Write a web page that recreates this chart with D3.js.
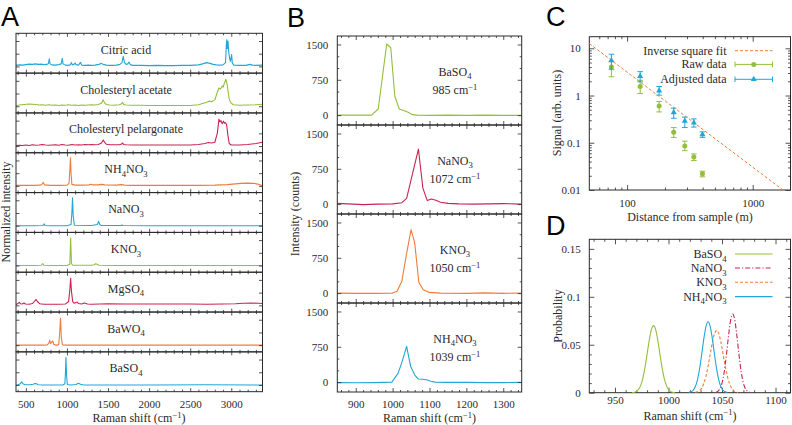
<!DOCTYPE html>
<html><head><meta charset="utf-8">
<script src="https://cdnjs.cloudflare.com/ajax/libs/d3/7.8.5/d3.min.js"></script>
<style>html,body{margin:0;padding:0;background:#fff}svg{display:block}</style>
</head><body>
<svg id="chart" width="792" height="425"></svg>
<script>
// ================= DATA =================
// Panel A: normalized Raman spectra [shift, intensity]
const spectraNamesA = ["Citric acid","Cholesteryl acetate","Cholesteryl pelargonate","NH_4NO_3","NaNO_3","KNO_3","MgSO_4","BaWO_4","BaSO_4"];
const ramanTicksA = [500,1000,1500,2000,2500,3000];
const citricAcid = [[380,0.04],[420,0.06],[460,0.05],[500,0.07],[540,0.09],[580,0.08],[620,0.1],[650,0.08],[680,0.09],[720,0.07],[760,0.08],[775,0.12],[785,0.3],[795,0.1],[820,0.06],[860,0.05],[900,0.07],[930,0.1],[943,0.32],[953,0.1],[980,0.05],[1010,0.04],[1040,0.06],[1055,0.15],[1065,0.06],[1085,0.08],[1100,0.13],[1110,0.07],[1140,0.05],[1165,0.16],[1180,0.05],[1220,0.04],[1260,0.05],[1300,0.04],[1340,0.05],[1390,0.08],[1420,0.12],[1440,0.08],[1480,0.05],[1520,0.04],[1560,0.04],[1600,0.05],[1640,0.07],[1670,0.15],[1685,0.4],[1700,0.15],[1720,0.08],[1740,0.1],[1755,0.17],[1770,0.07],[1800,0.04],[1900,0.04],[2000,0.03],[2100,0.04],[2200,0.03],[2300,0.03],[2400,0.04],[2500,0.04],[2600,0.06],[2650,0.1],[2700,0.15],[2740,0.12],[2780,0.08],[2820,0.06],[2860,0.05],[2900,0.06],[2930,0.15],[2940,0.85],[2945,1.05],[2952,0.7],[2960,1.0],[2968,0.6],[2980,0.3],[2990,0.2],[3004,0.47],[3012,0.15],[3030,0.05],[3100,0.04],[3180,0.04],[3227,0.08],[3260,0.05],[3300,0.04],[3380,0.05]];
const cholAcetate = [[380,0.02],[420,0.05],[480,0.07],[540,0.09],[580,0.08],[620,0.07],[660,0.05],[700,0.06],[740,0.04],[780,0.06],[820,0.04],[860,0.05],[900,0.03],[940,0.05],[980,0.04],[1020,0.06],[1060,0.04],[1100,0.05],[1140,0.03],[1180,0.05],[1220,0.04],[1260,0.05],[1300,0.06],[1340,0.05],[1380,0.07],[1420,0.12],[1442,0.25],[1460,0.12],[1480,0.07],[1520,0.05],[1560,0.04],[1600,0.05],[1640,0.06],[1665,0.1],[1678,0.15],[1690,0.07],[1720,0.05],[1800,0.04],[1900,0.04],[2000,0.03],[2100,0.03],[2200,0.03],[2300,0.03],[2400,0.03],[2500,0.03],[2600,0.06],[2660,0.12],[2700,0.16],[2730,0.2],[2760,0.18],[2800,0.25],[2830,0.55],[2850,0.72],[2870,0.68],[2890,0.8],[2902,0.75],[2915,0.9],[2935,1.06],[2950,0.85],[2965,0.5],[2975,0.3],[2990,0.15],[3023,0.06],[3100,0.04],[3200,0.05],[3300,0.06],[3380,0.08]];
const cholPelargonate = [[380,0.02],[420,0.03],[460,0.02],[500,0.04],[540,0.02],[580,0.05],[620,0.03],[660,0.04],[700,0.06],[740,0.04],[780,0.03],[820,0.04],[860,0.05],[900,0.03],[940,0.06],[980,0.04],[1020,0.03],[1060,0.06],[1100,0.04],[1140,0.05],[1180,0.04],[1220,0.06],[1260,0.05],[1300,0.06],[1340,0.05],[1380,0.06],[1420,0.12],[1442,0.24],[1460,0.14],[1480,0.07],[1520,0.05],[1560,0.05],[1600,0.05],[1640,0.05],[1665,0.08],[1678,0.12],[1690,0.06],[1720,0.05],[1800,0.04],[1900,0.04],[2000,0.04],[2100,0.04],[2200,0.04],[2300,0.04],[2400,0.04],[2500,0.04],[2600,0.06],[2680,0.1],[2720,0.14],[2760,0.12],[2800,0.15],[2830,0.5],[2850,1.06],[2862,0.95],[2875,1.0],[2890,0.88],[2905,0.98],[2918,0.9],[2930,0.92],[2943,0.85],[2960,0.4],[2975,0.1],[3000,0.04],[3100,0.04],[3200,0.06],[3300,0.1],[3380,0.15]];
const nh4no3A = [[380,0.02],[500,0.02],[600,0.02],[680,0.03],[700,0.08],[712,0.14],[725,0.04],[800,0.02],[900,0.02],[1000,0.03],[1025,0.1],[1035,0.6],[1043,1.1],[1050,0.5],[1060,0.06],[1100,0.03],[1200,0.03],[1270,0.04],[1290,0.06],[1310,0.04],[1380,0.04],[1420,0.06],[1460,0.04],[1600,0.03],[1660,0.05],[1700,0.03],[1800,0.02],[2000,0.02],[2200,0.02],[2400,0.02],[2600,0.02],[2800,0.03],[2950,0.05],[3050,0.08],[3120,0.1],[3200,0.11],[3270,0.1],[3320,0.07],[3360,0.03],[3380,0.02]];
const nano3A = [[380,0.0],[600,0.0],[700,0.01],[715,0.03],[724,0.07],[733,0.01],[800,0.0],[1000,0.0],[1050,0.05],[1060,0.5],[1068,1.1],[1076,0.4],[1090,0.02],[1300,0.01],[1370,0.05],[1385,0.17],[1400,0.04],[1420,0.01],[1660,0.01],[1670,0.03],[1680,0.01],[2000,0.0],[3380,0.0]];
const kno3A = [[380,0.0],[600,0.0],[690,0.01],[706,0.08],[718,0.01],[800,0.0],[1000,0.0],[1035,0.05],[1045,1.08],[1055,0.08],[1070,0.01],[1300,0.01],[1330,0.03],[1350,0.07],[1365,0.05],[1390,0.01],[1600,0.0],[3380,0.0]];
const mgso4A = [[380,0.03],[400,0.06],[420,0.12],[435,0.06],[455,0.05],[477,0.09],[495,0.05],[540,0.04],[580,0.07],[610,0.18],[625,0.23],[640,0.15],[670,0.06],[720,0.04],[800,0.04],[900,0.04],[980,0.05],[1020,0.15],[1035,0.6],[1045,1.06],[1055,0.55],[1070,0.15],[1090,0.08],[1110,0.11],[1125,0.13],[1140,0.07],[1180,0.05],[1210,0.09],[1225,0.08],[1250,0.05],[1300,0.04],[1400,0.05],[1500,0.06],[1700,0.05],[1900,0.05],[2100,0.05],[2300,0.05],[2500,0.05],[2700,0.04],[2900,0.05],[3050,0.06],[3150,0.08],[3250,0.09],[3330,0.08],[3380,0.07]];
const bawo4A = [[380,0.0],[700,0.0],[760,0.01],[780,0.08],[790,0.2],[800,0.06],[815,0.12],[827,0.17],[840,0.03],[870,0.0],[900,0.02],[912,0.5],[922,1.06],[932,0.3],[945,0.01],[1000,0.0],[3380,0.0]];
const baso4A = [[380,0.0],[400,0.01],[430,0.04],[450,0.12],[465,0.05],[490,0.01],[550,0.01],[590,0.03],[610,0.06],[630,0.05],[650,0.01],[700,0.0],[950,0.0],[975,0.05],[982,0.5],[988,1.08],[995,0.4],[1005,0.02],[1050,0.0],[1110,0.02],[1140,0.07],[1165,0.03],[1200,0.0],[2000,0.0],[2700,0.01],[3380,0.0]];

// Panel B: raw spectra (counts)
const namesB = ["BaSO_4","NaNO_3","KNO_3","NH_4NO_3"];
const peaksB = ["985","1072","1050","1039"];
const ticksB_y = [0,750,1500];
const ticksB_x = [900,1000,1100,1200,1300];
const baso4B_x = [850,900,943,961,984,995,1006,1018,1030,1042,1054,1066,1100,1150,1200,1250,1300,1350];
const baso4B_y = [0,0,0,130,1510,1430,400,130,100,60,10,0,-5,0,-5,0,-5,-5];
const nano3B_x = [850,880,920,960,1000,1025,1038,1055,1070,1082,1094,1105,1117,1130,1150,1180,1220,1260,1300,1350];
const nano3B_y = [15,5,-10,0,5,30,120,680,1170,340,75,110,80,40,15,5,0,5,10,0];
const kno3B_x = [850,900,950,1000,1012,1025,1037,1050,1060,1071,1083,1100,1130,1200,1250,1300,1350];
const kno3B_y = [0,-5,-5,0,40,250,800,1350,1060,230,70,15,0,-5,5,-5,0];
const nh4no3B_x = [850,900,950,998,1015,1026,1038,1049,1060,1070,1081,1092,1104,1115,1150,1200,1250,1300,1350];
const nh4no3B_y = [-10,-15,-10,0,190,440,760,330,150,65,60,50,20,0,-5,-5,-10,-10,-5];

// Panel C: signal vs distance
const distC = [75,127,180,235,288,340,398];
const rawVal = [4.0,1.55,0.6,0.166,0.085,0.05,0.022];
const rawLo  = [2.5,1.1,0.45,0.13,0.068,0.042,0.019];
const rawHi  = [5.3,2.1,0.75,0.21,0.108,0.058,0.025];
const adjVal = [5.5,2.55,1.26,0.44,0.29,0.265,0.15];
const adjLo  = [3.6,1.95,1.02,0.33,0.21,0.215,0.13];
const adjHi  = [7.5,3.2,1.55,0.54,0.35,0.32,0.17];
const fitX = [50,1740];
const fitY = [12.6,0.01];
const ticksC_x = [100,1000];
const ticksC_y = [0.01,0.1,1,10];

// Panel D: probability distributions of peak position
const namesD = ["BaSO_4","NaNO_3","KNO_3","NH_4NO_3"];
const baso4D_x = [966,968,970,972,974,976,978,980,982,984,986,988,990,992,994,996,998,1000,1002,1004,1006];
const baso4D_y = [0.0001,0.0005,0.0014,0.0034,0.0076,0.015,0.0261,0.0402,0.0547,0.0658,0.07,0.0658,0.0547,0.0402,0.0261,0.015,0.0076,0.0034,0.0014,0.0005,0.0001];
const nano3D_x = [1044,1046,1048,1050,1052,1054,1056,1058,1060,1062,1064,1066,1068,1070,1072,1074,1076];
const nano3D_y = [0.0004,0.0013,0.0039,0.0099,0.0212,0.0384,0.0585,0.0754,0.082,0.0754,0.0585,0.0384,0.0212,0.0099,0.0039,0.0013,0.0004];
const kno3D_x = [1025,1027,1029,1031,1033,1035,1037,1039,1041,1043,1045,1047,1049,1051,1053,1055,1057,1059,1061,1063,1065];
const kno3D_y = [0.0003,0.0009,0.0022,0.0048,0.0096,0.0173,0.0278,0.0403,0.0526,0.0616,0.065,0.0616,0.0526,0.0403,0.0278,0.0173,0.0096,0.0048,0.0022,0.0009,0.0003];
const nh4no3D_x = [1019,1021,1023,1025,1027,1029,1031,1033,1035,1037,1039,1041,1043,1045,1047,1049,1051,1053,1055];
const nh4no3D_y = [0.0003,0.0009,0.0025,0.0062,0.0132,0.0246,0.0398,0.0562,0.069,0.074,0.069,0.0562,0.0398,0.0246,0.0132,0.0062,0.0025,0.0009,0.0003];
const ticksD_x = [950,1000,1050,1100];
const ticksD_y = [0,0.05,0.1,0.15];

// ================= STYLE =================
const CYAN="#1fa7d6", GREEN="#93bf3c", CRIMSON="#c9244f", ORANGE="#ef7c3c";
const SERIF='"Liberation Serif","Times New Roman",serif';
const SANS='"Liberation Sans",Arial,sans-serif';
const INK="#2a2a2a";
const svg=d3.select("#chart");

function rich(sel,str){
  const fs=parseFloat(sel.attr("font-size"))||12;
  const re=/([_^])(\{[^}]*\}|.)/g; let last=0,m,shift=0;
  const add=(t,mode)=>{ if(!t) return; const ts=sel.append("tspan").text(t);
    const target= mode==="_"? fs*0.3 : mode==="^"? -fs*0.36 : 0;
    const dy=target-shift; if(dy) ts.attr("dy",dy); shift=target;
    if(mode) ts.attr("font-size",fs*0.72); };
  while((m=re.exec(str))){ add(str.slice(last,m.index),null); let t=m[2]; if(t[0]==="{") t=t.slice(1,-1); add(t,m[1]); last=re.lastIndex; }
  add(str.slice(last),null);
  return sel;
}
function text(g,x,y,str,size,anchor,font){
  const t=g.append("text").attr("x",x).attr("y",y).attr("font-size",size).attr("font-family",font||SERIF).attr("fill",INK).attr("text-anchor",anchor||"middle");
  return rich(t,str);
}
const AX={bottom:d3.axisBottom,top:d3.axisTop,left:d3.axisLeft,right:d3.axisRight};
function inward(g,scale,orient,pos,values,len){
  const ax=AX[orient](scale).tickValues(values).tickSize(-len).tickFormat("");
  const t=g.append("g").attr("transform",(orient==="bottom"||orient==="top")?`translate(0,${pos})`:`translate(${pos},0)`).call(ax);
  t.select(".domain").remove(); t.selectAll("line").attr("stroke",INK).attr("stroke-width",0.8);
}
function tickLabels(g,scale,orient,pos,values,fmt,pad,size){
  const ax=AX[orient](scale).tickValues(values).tickSize(0).tickPadding(pad).tickFormat(fmt);
  const t=g.append("g").attr("transform",(orient==="bottom"||orient==="top")?`translate(0,${pos})`:`translate(${pos},0)`).call(ax);
  t.select(".domain").remove(); t.selectAll("line").remove();
  t.selectAll("text").attr("font-family",SERIF).attr("font-size",size).attr("fill",INK);
}
function frame(g,x0,y0,x1,y1){
  g.append("rect").attr("x",x0).attr("y",y0).attr("width",x1-x0).attr("height",y1-y0).attr("fill","none").attr("stroke",INK).attr("stroke-width",1);
}
function allTicks(g,xs,ys,x0,y0,x1,y1,xMaj,xMin,yMaj,yMin,LM,Lm){
  inward(g,xs,"bottom",y1,xMin,Lm); inward(g,xs,"bottom",y1,xMaj,LM);
  inward(g,xs,"top",y0,xMin,Lm); inward(g,xs,"top",y0,xMaj,LM);
  inward(g,ys,"left",x0,yMin,Lm); inward(g,ys,"left",x0,yMaj,LM);
  inward(g,ys,"right",x1,yMin,Lm); inward(g,ys,"right",x1,yMaj,LM);
}
function rot(g,x,y,str,size){
  const t=g.append("text").attr("transform",`translate(${x},${y}) rotate(-90)`).attr("font-size",size).attr("font-family",SERIF).attr("fill",INK).attr("text-anchor","middle");
  return rich(t,str);
}

// ================= PANEL A =================
(function(){
  const x0=16,x1=262.5,y0=33.3,h=39.82;
  const spectra=[citricAcid,cholAcetate,cholPelargonate,nh4no3A,nano3A,kno3A,mgso4A,bawo4A,baso4A];
  const colors=[CYAN,GREEN,CRIMSON,ORANGE,CYAN,GREEN,CRIMSON,ORANGE,CYAN];
  const xs=d3.scaleLinear().domain([380,3380]).range([x0,x1]);
  const g=svg.append("g");
  const xMin=d3.range(400,3400,100).filter(v=>v%500!==0), xMaj=d3.range(500,3400,500);
  spectra.forEach((s,i)=>{
    const top=y0+i*h, bot=top+h;
    const ys=d3.scaleLinear().domain([-0.264,1.303]).range([bot,top]);
    const line=d3.line().x(d=>xs(d[0])).y(d=>ys(d[1]));
    g.append("path").attr("d",line(s)).attr("fill","none").attr("stroke",colors[i]).attr("stroke-width",1.1).attr("stroke-linejoin","round");
    frame(g,x0,top,x1,bot);
    allTicks(g,xs,ys,x0,top,x1,bot,xMaj,xMin,[0,0.5,1],[],3.5,2);
    text(g,126,top+20.5,spectraNamesA[i],12);
  });
  const bot=y0+9*h;
  tickLabels(g,xs,"bottom",bot,ramanTicksA,d3.format("d"),8.5,11);
  text(g,139,422,"Raman shift (cm^{−1})",12);
  rot(g,9.5,212,"Normalized intensity",12);
  g.append("text").attr("x",1).attr("y",26).attr("font-family",SANS).attr("font-size",27).attr("fill","#000").text("A");
})();

// ================= PANEL B =================
(function(){
  const x0=337.3,x1=521.7,y0=36,h=89;
  const xs=d3.scaleLinear().domain([850,1350]).range([x0,x1]);
  const sx=[baso4B_x,nano3B_x,kno3B_x,nh4no3B_x], sy=[baso4B_y,nano3B_y,kno3B_y,nh4no3B_y];
  const colors=[GREEN,CRIMSON,ORANGE,CYAN];
  const g=svg.append("g");
  const xMin=d3.range(860,1350,20).filter(v=>v%100!==0);
  sx.forEach((X,i)=>{
    const top=y0+i*h, bot=top+h;
    const ys=d3.scaleLinear().domain([-210,1680]).range([bot,top]);
    const line=d3.line().x(d=>xs(d)).y((d,j)=>ys(sy[i][j]));
    g.append("path").attr("d",line(X)).attr("fill","none").attr("stroke",colors[i]).attr("stroke-width",1.1).attr("stroke-linejoin","round");
    frame(g,x0,top,x1,bot);
    allTicks(g,xs,ys,x0,top,x1,bot,ticksB_x,xMin,ticksB_y,[250,500,1000,1250],4,2);
    tickLabels(g,ys,"left",x0,ticksB_y,d3.format("d"),9,11);
    text(g,455,top+39.5,namesB[i],12);
    text(g,455,top+58,peaksB[i]+" cm^{−1}",12);
  });
  tickLabels(g,xs,"bottom",y0+4*h,ticksB_x,d3.format("d"),8.5,11);
  text(g,429.5,422,"Raman shift (cm^{−1})",12);
  rot(g,299,214,"Intensity (counts)",12);
  g.append("text").attr("x",287).attr("y",26.5).attr("font-family",SANS).attr("font-size",27).attr("fill","#000").text("B");
})();

// ================= PANEL C =================
(function(){
  const x0=589.3,x1=790.5,y0=36.7,y1=190;
  const xs=d3.scaleLog().domain([50,2000]).range([x0,x1]);
  const ys=d3.scaleLog().domain([0.01,17.6]).range([y1,y0]);
  const g=svg.append("g");
  svg.append("clipPath").attr("id","clipC").append("rect").attr("x",x0).attr("y",y0).attr("width",x1-x0).attr("height",y1-y0);
  const xMin=[60,70,80,90,200,300,400,500,600,700,800,900];
  const yMin=[];[0.01,0.1,1,10].forEach(d=>{for(let k=2;k<=9;k++){const v=k*d; if(v<17.6) yMin.push(v);}});
  frame(g,x0,y0,x1,y1);
  allTicks(g,xs,ys,x0,y0,x1,y1,ticksC_x,xMin,ticksC_y,yMin,5,2.5);
  tickLabels(g,xs,"bottom",y1,ticksC_x,d3.format("d"),9.5,11);
  tickLabels(g,ys,"left",x0,ticksC_y,d=>String(d),8.6,11);
  g.append("path").attr("clip-path","url(#clipC)")
    .attr("d",d3.line().x(d=>xs(d)).y((d,j)=>ys(fitY[j]))(fitX))
    .attr("fill","none").attr("stroke",ORANGE).attr("stroke-width",1).attr("stroke-dasharray","3,2");
  function series(vals,lo,hi,color,marker){
    const sg=g.append("g").attr("stroke",color).attr("fill",color);
    distC.forEach((d,i)=>{
      const x=xs(d);
      sg.append("line").attr("x1",x).attr("x2",x).attr("y1",ys(lo[i])).attr("y2",ys(hi[i])).attr("stroke-width",1);
      [lo[i],hi[i]].forEach(v=>sg.append("line").attr("x1",x-2.8).attr("x2",x+2.8).attr("y1",ys(v)).attr("y2",ys(v)).attr("stroke-width",1));
      sg.append("path").attr("transform",`translate(${x},${ys(vals[i])})`).attr("d",d3.symbol().type(marker).size(marker===d3.symbolCircle?20:16)()).attr("stroke","none");
    });
  }
  series(rawVal,rawLo,rawHi,GREEN,d3.symbolCircle);
  series(adjVal,adjLo,adjHi,CYAN,d3.symbolTriangle);
  const lx0=735,lx1=772.5, ly=[50.7,64.4,79.3];
  text(g,726.5,ly[0]+4,"Inverse square fit",12,"end");
  g.append("line").attr("x1",lx0).attr("x2",lx1).attr("y1",ly[0]).attr("y2",ly[0]).attr("stroke",ORANGE).attr("stroke-dasharray","3,2");
  [[1,"Raw data",GREEN,d3.symbolCircle],[2,"Adjusted data",CYAN,d3.symbolTriangle]].forEach(([k,lab,c,m])=>{
    text(g,726.5,ly[k]+4,lab,12,"end");
    g.append("line").attr("x1",lx0).attr("x2",lx1).attr("y1",ly[k]).attr("y2",ly[k]).attr("stroke",c);
    [lx0,lx1].forEach(x=>g.append("line").attr("x1",x).attr("x2",x).attr("y1",ly[k]-2.8).attr("y2",ly[k]+2.8).attr("stroke",c));
    g.append("path").attr("transform",`translate(${(lx0+lx1)/2},${ly[k]})`).attr("d",d3.symbol().type(m).size(m===d3.symbolCircle?20:16)()).attr("fill",c);
  });
  text(g,690,220.5,"Distance from sample (m)",12);
  rot(g,561,113,"Signal (arb. units)",12);
  g.append("text").attr("x",546).attr("y",26).attr("font-family",SANS).attr("font-size",27).attr("fill","#000").text("C");
})();

// ================= PANEL D =================
(function(){
  const x0=589.3,x1=790.5,y0=239.3,y1=392.7;
  const xs=d3.scaleLinear().domain([926,1114]).range([x0,x1]);
  const ys=d3.scaleLinear().domain([0,0.16]).range([y1,y0]);
  const g=svg.append("g");
  const xMin=d3.range(930,1114,10).filter(v=>v%50!==0);
  const yMin=d3.range(0.01,0.16,0.01).filter(v=>Math.abs(v*20-Math.round(v*20))>1e-6);
  frame(g,x0,y0,x1,y1);
  allTicks(g,xs,ys,x0,y0,x1,y1,ticksD_x,xMin,ticksD_y,yMin,5,2.5);
  tickLabels(g,xs,"bottom",y1,ticksD_x,d3.format("d"),4,11);
  tickLabels(g,ys,"left",x0,ticksD_y,d=>d===0?"0":String(d),8.6,11);
  const sets=[[baso4D_x,baso4D_y,GREEN,null],[nano3D_x,nano3D_y,CRIMSON,"5,2,1.2,2"],[kno3D_x,kno3D_y,ORANGE,"3,2"],[nh4no3D_x,nh4no3D_y,CYAN,null]];
  sets.forEach(([X,Y,c,dash])=>{
    const line=d3.line().x(d=>xs(d)).y((d,j)=>ys(Y[j])).curve(d3.curveMonotoneX);
    const p=g.append("path").attr("d",line(X)).attr("fill","none").attr("stroke",c).attr("stroke-width",1.1);
    if(dash) p.attr("stroke-dasharray",dash);
  });
  const lx0=735,lx1=772.5, ly=[254,268,282.3,296.6];
  sets.forEach(([X,Y,c,dash],k)=>{
    text(g,726.5,ly[k]+4,namesD[k],12,"end");
    const l=g.append("line").attr("x1",lx0).attr("x2",lx1).attr("y1",ly[k]).attr("y2",ly[k]).attr("stroke",c).attr("stroke-width",1.1);
    if(dash) l.attr("stroke-dasharray",dash);
  });
  text(g,690,419.5,"Raman shift (cm^{−1})",12);
  rot(g,562,316,"Probability",12);
  g.append("text").attr("x",546).attr("y",235).attr("font-family",SANS).attr("font-size",27).attr("fill","#000").text("D");
})();
</script>
</body></html>
